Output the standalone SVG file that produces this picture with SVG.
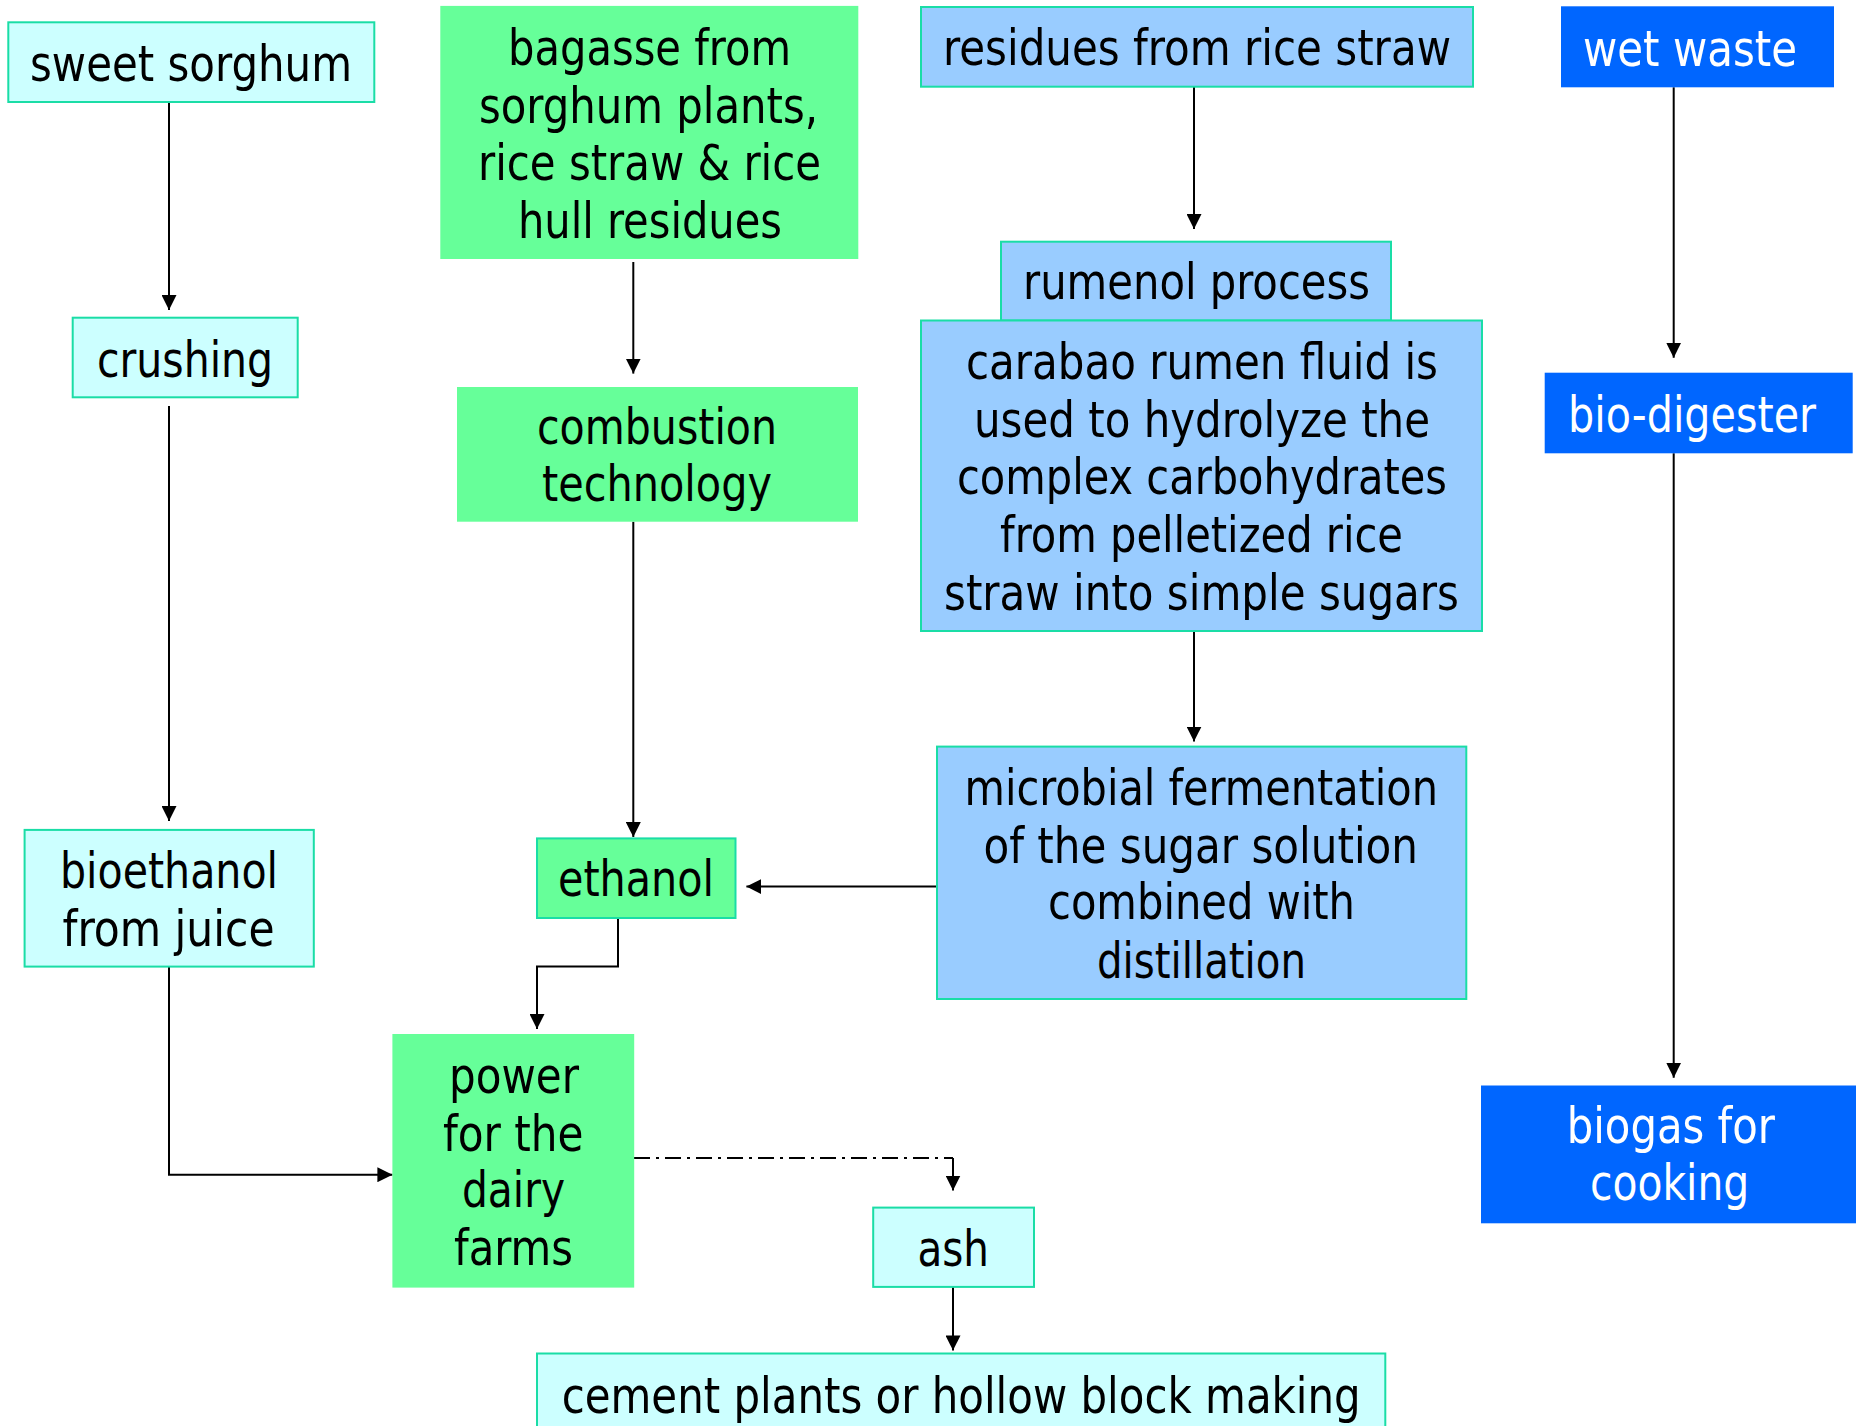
<svg xmlns="http://www.w3.org/2000/svg" width="1856" height="1426" viewBox="0 0 1856 1426">
<style>
  .t { font-family: 'DejaVu Sans Condensed', 'DejaVu Sans', sans-serif; font-stretch: condensed; font-size: 50px; fill: #000; }
  .w { fill: #fff; }
  .cyan { fill: #CCFFFF; stroke: #1ADDA6; stroke-width: 2; }
  .green { fill: #66FF99; stroke: none; }
  .greenb { fill: #66FF99; stroke: #1ADDA6; stroke-width: 2; }
  .blue { fill: #99CCFF; stroke: #1ADDA6; stroke-width: 2; }
  .dblue { fill: #0066FF; stroke: none; }
  .c { fill: none; stroke: #000; stroke-width: 2; marker-end: url(#arr); }
  .dd { fill: none; stroke: #000; stroke-width: 2; stroke-dasharray: 16 6 3 6; }
</style>
<defs>
  <marker id="arr" markerUnits="userSpaceOnUse" markerWidth="15" markerHeight="15" viewBox="0 0 15 15" refX="15" refY="7.5" orient="auto">
    <path d="M0,0 L15,7.5 L0,15 z" fill="#000"/>
  </marker>
</defs>
<rect width="1856" height="1426" fill="#fff"/>

<g id="connectors">
  <path class="c" d="M169,102 V310"/>
  <path class="c" d="M169,406 V821"/>
  <path class="c" d="M169,966.6 V1174.7 H392.4"/>
  <path class="c" d="M633.3,262 V373.6"/>
  <path class="c" d="M633.3,521.7 V837"/>
  <path class="c" d="M618,918 V966.6 H537 V1029"/>
  <path class="c" d="M1194,87 V229"/>
  <path class="c" d="M1194,631 V741.6"/>
  <path class="c" d="M937,886.6 H746.4"/>
  <path class="c" d="M1673.7,87.3 V357.7"/>
  <path class="c" d="M1673.7,453.3 V1077.7"/>
  <path class="dd" d="M634,1158 H953"/>
  <path class="c" d="M953,1158 V1190.5"/>
  <path class="c" d="M953,1287 V1350.4"/>
</g>

<g id="sweet-sorghum">
  <rect class="cyan" x="8.3" y="22.3" width="366" height="79.7"/>
  <text class="t" x="30" y="81" textLength="322" lengthAdjust="spacingAndGlyphs">sweet sorghum</text>
</g>
<g id="crushing">
  <rect class="cyan" x="72.7" y="317.7" width="225" height="79.6"/>
  <text class="t" x="97" y="377" textLength="176" lengthAdjust="spacingAndGlyphs">crushing</text>
</g>
<g id="bagasse">
  <rect class="green" x="440.3" y="5.9" width="418" height="253.1"/>
  <text class="t" x="508" y="65.4" textLength="283" lengthAdjust="spacingAndGlyphs">bagasse from</text>
  <text class="t" x="479" y="123" textLength="339" lengthAdjust="spacingAndGlyphs">sorghum plants,</text>
  <text class="t" x="478" y="180" textLength="343" lengthAdjust="spacingAndGlyphs">rice straw &amp; rice</text>
  <text class="t" x="518" y="237.6" textLength="264" lengthAdjust="spacingAndGlyphs">hull residues</text>
</g>
<g id="combustion">
  <rect class="green" x="457" y="387" width="401" height="134.7"/>
  <text class="t" x="537" y="444" textLength="240" lengthAdjust="spacingAndGlyphs">combustion</text>
  <text class="t" x="542" y="501" textLength="230" lengthAdjust="spacingAndGlyphs">technology</text>
</g>
<g id="residues">
  <rect class="blue" x="921" y="7" width="552" height="79.7"/>
  <text class="t" x="943" y="65" textLength="508" lengthAdjust="spacingAndGlyphs">residues from rice straw</text>
</g>
<g id="rumenol">
  <rect class="blue" x="1001" y="241.7" width="390" height="78.8"/>
  <text class="t" x="1023" y="298.5" textLength="347" lengthAdjust="spacingAndGlyphs">rumenol process</text>
</g>
<g id="carabao">
  <rect class="blue" x="921" y="320.5" width="561" height="310.5"/>
  <text class="t" x="966" y="379" textLength="472" lengthAdjust="spacingAndGlyphs">carabao rumen fluid is</text>
  <text class="t" x="974" y="436.5" textLength="456" lengthAdjust="spacingAndGlyphs">used to hydrolyze the</text>
  <text class="t" x="957" y="494" textLength="490" lengthAdjust="spacingAndGlyphs">complex carbohydrates</text>
  <text class="t" x="1000" y="551.5" textLength="403" lengthAdjust="spacingAndGlyphs">from pelletized rice</text>
  <text class="t" x="944" y="609.5" textLength="515" lengthAdjust="spacingAndGlyphs">straw into simple sugars</text>
</g>
<g id="wet-waste">
  <rect class="dblue" x="1561" y="6.3" width="273" height="81"/>
  <text class="t w" x="1583" y="65.7" textLength="214" lengthAdjust="spacingAndGlyphs">wet waste</text>
</g>
<g id="bio-digester">
  <rect class="dblue" x="1544.7" y="372.7" width="308" height="80.6"/>
  <text class="t w" x="1568" y="431.7" textLength="248" lengthAdjust="spacingAndGlyphs">bio-digester</text>
</g>
<g id="bioethanol">
  <rect class="cyan" x="24.6" y="829.9" width="289.2" height="136.7"/>
  <text class="t" x="60" y="888" textLength="218" lengthAdjust="spacingAndGlyphs">bioethanol</text>
  <text class="t" x="62.5" y="945.6" textLength="212" lengthAdjust="spacingAndGlyphs">from juice</text>
</g>
<g id="ethanol">
  <rect class="greenb" x="537" y="838.4" width="198.5" height="79.6"/>
  <text class="t" x="558" y="895.5" textLength="156" lengthAdjust="spacingAndGlyphs">ethanol</text>
</g>
<g id="microbial">
  <rect class="blue" x="937" y="746.6" width="529.3" height="252.4"/>
  <text class="t" x="964.5" y="804.6" textLength="473.5" lengthAdjust="spacingAndGlyphs">microbial fermentation</text>
  <text class="t" x="983.5" y="863.2" textLength="434.5" lengthAdjust="spacingAndGlyphs">of the sugar solution</text>
  <text class="t" x="1048" y="919" textLength="307" lengthAdjust="spacingAndGlyphs">combined with</text>
  <text class="t" x="1097" y="977.5" textLength="209" lengthAdjust="spacingAndGlyphs">distillation</text>
</g>
<g id="power">
  <rect class="green" x="392.4" y="1034" width="241.8" height="253.6"/>
  <text class="t" x="449" y="1093" textLength="130" lengthAdjust="spacingAndGlyphs">power</text>
  <text class="t" x="443" y="1150.8" textLength="140.5" lengthAdjust="spacingAndGlyphs">for the</text>
  <text class="t" x="462" y="1206.5" textLength="103" lengthAdjust="spacingAndGlyphs">dairy</text>
  <text class="t" x="454" y="1265.4" textLength="119" lengthAdjust="spacingAndGlyphs">farms</text>
</g>
<g id="ash">
  <rect class="cyan" x="873.2" y="1207.6" width="160.8" height="79.3"/>
  <text class="t" x="917.5" y="1265.7" textLength="71.5" lengthAdjust="spacingAndGlyphs">ash</text>
</g>
<g id="cement">
  <rect class="cyan" x="537" y="1353.5" width="848.3" height="80"/>
  <text class="t" x="561.7" y="1413.3" textLength="799" lengthAdjust="spacingAndGlyphs">cement plants or hollow block making</text>
</g>
<g id="biogas">
  <rect class="dblue" x="1481" y="1085.5" width="380" height="137.8"/>
  <text class="t w" x="1566.7" y="1143.3" textLength="208.3" lengthAdjust="spacingAndGlyphs">biogas for</text>
  <text class="t w" x="1590" y="1200" textLength="159.3" lengthAdjust="spacingAndGlyphs">cooking</text>
</g>
</svg>
